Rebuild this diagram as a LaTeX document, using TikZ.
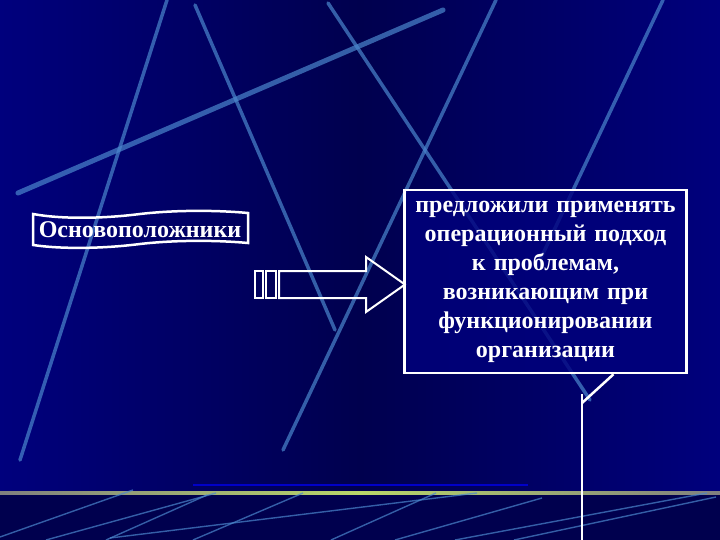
\documentclass[tikz,border=0pt]{standalone}
\usepackage{fontspec}
\setmainfont{Liberation Serif}
\usetikzlibrary{positioning}
\definecolor{slidebg}{RGB}{0,0,125}
\definecolor{slidedark}{RGB}{0,0,78}
\definecolor{streak}{RGB}{75,135,205}
\definecolor{limebar}{RGB}{185,215,105}
\definecolor{barblue}{RGB}{0,0,200}
\tikzset{
  streakline/.style={streak, line width=3.5pt, opacity=0.7, line cap=round},
  thinstreak/.style={streak, line width=1.4pt, opacity=0.7},
  whiteline/.style={white, line width=2.5pt},
  slidetext/.style={text=white, font=\bfseries\fontsize{24}{29}\selectfont, align=center},
}
\begin{document}
\begin{tikzpicture}[x=1pt,y=-1pt]
\useasboundingbox (0,0) rectangle (720,540);
% background
\shade[left color=slidebg, right color=slidebg, middle color=slidedark] (0,0) rectangle (720,493);
\fill[slidedark] (0,493) rectangle (720,540);
% streaks
\draw[streakline] (167,0) -- (20,460);
\draw[streakline] (195,5) -- (335,330);
\draw[streakline, line width=5pt] (18,193) -- (443,10);
\draw[streakline] (328,3) -- (590,400);
\draw[streakline] (496,0) -- (283,450);
\draw[streakline] (663,0) -- (540,260);
% bottom bar
\draw[barblue, line width=1.5pt] (193,485) -- (528,485);
\shade[left color=gray, right color=gray, middle color=limebar] (0,491.5) rectangle (720,494.5);
\foreach \xa/\ya/\xb/\yb in {0/537/133/490, 46/540/216/493, 106/540/207/495, 110/538/477/493,
    193/540/303/493, 331/540/436/493, 395/540/542/498, 455/540/707/493, 514/540/716/497}
  \draw[thinstreak] (\xa,\ya) -- (\xb,\yb);

% founders
\node[slidetext] (founders) at (140,230) {Основоположники};
\draw[whiteline] (33,214) .. controls (60,219) and (100,219) .. (140,214)
  .. controls (175,210) and (215,210) .. (248,213) -- (248,243)
  .. controls (215,240) and (175,240) .. (140,244)
  .. controls (100,249) and (60,249) .. (33,245) -- cycle;

% arrow
\draw[white, line width=2pt] (279,271) -- (366,271) -- (366,257) -- (405,284.5) -- (366,312) -- (366,298) -- (279,298) -- cycle;
\draw[white, line width=2pt] (255,271) rectangle (263,298);
\draw[white, line width=2pt] (266,271) rectangle (276,298);

% ideas box
\node[slidetext, draw=white, fill=slidebg, fill opacity=0.8, text opacity=1, line width=2.5pt,
  minimum width=281, minimum height=183, text width=275pt] (ideas) at (545.5,281.5)
  {предложили применять\\операционный подход\\к проблемам,\\возникающим при\\функционировании\\организации};
\coordinate (bend) at (582,403);
\coordinate (stem) at (582,394);
\coordinate (tail) at (582,540);
\draw[whiteline] ([xshift=68pt]ideas.south) -- (bend);
\draw[whiteline] (stem) -- (tail);
\end{tikzpicture}
\end{document}
